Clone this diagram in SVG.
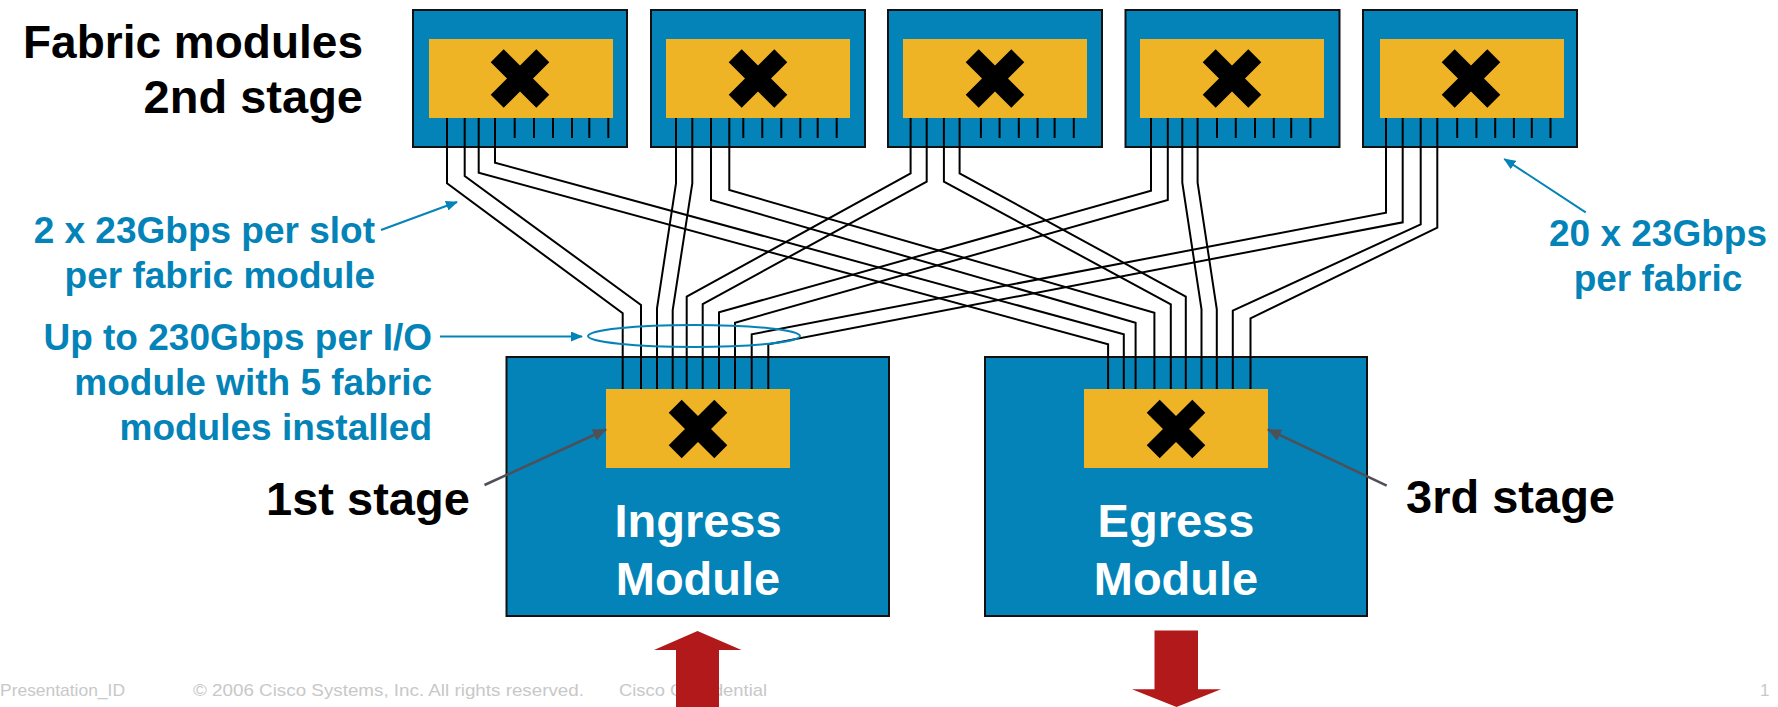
<svg xmlns="http://www.w3.org/2000/svg" width="1778" height="707" viewBox="0 0 1778 707">
<defs>
<style>
.box{fill:#0383B7;stroke:#111;stroke-width:2}
.xbar{fill:#EEB425}
.tick{stroke:#000;stroke-width:2}
.wire{fill:none;stroke:#000;stroke-width:2;stroke-linejoin:miter}
.lbl{font-family:"Liberation Sans",Arial,sans-serif;font-weight:bold}
.blk{font-size:47px;fill:#000}
.blu{font-size:37px;fill:#0383B7}
.wht{font-size:47px;fill:#fff;text-anchor:middle}
.foot{font-family:"Liberation Sans",Arial,sans-serif;font-size:17px;fill:#C8C8C8}
.barrow{stroke:#0383B7;stroke-width:2;fill:none}
.garrow{stroke:#4F4F57;stroke-width:2.5;fill:none}
.red{fill:#B2191B}
</style>
<marker id="mb" viewBox="0 0 12 10" refX="11" refY="5" markerWidth="12" markerHeight="10" markerUnits="userSpaceOnUse" orient="auto"><path d="M0,0 L12,5 L0,10 z" fill="#0383B7"/></marker>
<marker id="mg" viewBox="0 0 14 12" refX="13" refY="6" markerWidth="14" markerHeight="12" markerUnits="userSpaceOnUse" orient="auto"><path d="M0,0 L14,6 L0,12 z" fill="#4F4F57"/></marker>
<path id="X" d="M-29.3,-16.3 L-16.3,-29.3 L0,-13 L16.3,-29.3 L29.3,-16.3 L13,0 L29.3,16.3 L16.3,29.3 L0,13 L-16.3,29.3 L-29.3,16.3 L-13,0 z" fill="#000"/>
</defs>
<rect width="1778" height="707" fill="#fff"/>

<g id="fabric1">
<rect class="box" x="413" y="10" width="214" height="137"/>
<rect class="xbar" x="429" y="39" width="184" height="79"/>
<use href="#X" x="520" y="78.5"/>
<path class="tick" d="M514.7,118V138M534,118V138M553,118V138M572,118V138M589.3,118V138M608.3,118V138"/>
</g>
<g id="fabric2">
<rect class="box" x="651" y="10" width="214" height="137"/>
<rect class="xbar" x="666" y="39" width="184" height="79"/>
<use href="#X" x="758" y="78.5"/>
<path class="tick" d="M743.3,118V138M762.3,118V138M781.3,118V138M800.3,118V138M817.7,118V138M836.7,118V138"/>
</g>
<g id="fabric3">
<rect class="box" x="888" y="10" width="214" height="137"/>
<rect class="xbar" x="903" y="39" width="184" height="79"/>
<use href="#X" x="995" y="78.5"/>
<path class="tick" d="M980.9,118V138M999.6,118V138M1018.8,118V138M1037.6,118V138M1054.6,118V138M1073.8,118V138"/>
</g>
<g id="fabric4">
<rect class="box" x="1125.5" y="10" width="214" height="137"/>
<rect class="xbar" x="1140" y="39" width="184" height="79"/>
<use href="#X" x="1232" y="78.5"/>
<path class="tick" d="M1217,118V138M1235.8,118V138M1255,118V138M1273.8,118V138M1291.2,118V138M1310.4,118V138"/>
</g>
<g id="fabric5">
<rect class="box" x="1363" y="10" width="214" height="137"/>
<rect class="xbar" x="1380" y="39" width="184" height="79"/>
<use href="#X" x="1471" y="78.5"/>
<path class="tick" d="M1457.2,118V138M1476.4,118V138M1495.2,118V138M1513.9,118V138M1531.8,118V138M1550.5,118V138"/>
</g>

<g id="ingress">
<rect class="box" x="506.5" y="357" width="382.5" height="259"/>
<rect class="xbar" x="606" y="389" width="184" height="79"/>
<use href="#X" x="698" y="429"/>
<text class="lbl wht" x="698" y="537">Ingress</text>
<text class="lbl wht" x="698" y="595">Module</text>
</g>
<g id="egress">
<rect class="box" x="985" y="357" width="382" height="259"/>
<rect class="xbar" x="1084" y="389" width="184" height="79"/>
<use href="#X" x="1176" y="429"/>
<text class="lbl wht" x="1176" y="537">Egress</text>
<text class="lbl wht" x="1176" y="595">Module</text>
</g>

<g id="connectors">
<polyline class="wire" points="447,118 447,183.3 622.7,313.3 622.7,389"/>
<polyline class="wire" points="464.7,118 464.7,176 641,305 641,389"/>
<polyline class="wire" points="478.7,118 478.7,172.7 1108.1,344.3 1108.1,389"/>
<polyline class="wire" points="495,118 495,162.7 1123.8,334.3 1123.8,389"/>
<polyline class="wire" points="676,118 676,183.3 657,308.3 657,389"/>
<polyline class="wire" points="692.3,118 692.3,183.3 672.7,310 672.7,389"/>
<polyline class="wire" points="711,118 711,200 1135.6,322.7 1135.6,389"/>
<polyline class="wire" points="729.3,118 729.3,190 1154.4,312.7 1154.4,389"/>
<polyline class="wire" points="910.6,118 910.6,173.3 686.7,296.7 686.7,389"/>
<polyline class="wire" points="926.7,118 926.7,181.7 702.7,304 702.7,389"/>
<polyline class="wire" points="943.9,118 943.9,181.7 1170.8,304.3 1170.8,389"/>
<polyline class="wire" points="959.6,118 959.6,173.3 1185.8,296.7 1185.8,389"/>
<polyline class="wire" points="1151,118 1151,190.7 719,312.3 719,389"/>
<polyline class="wire" points="1167.8,118 1167.8,200 735,322.7 735,389"/>
<polyline class="wire" points="1182.3,118 1182.3,182.7 1201.5,309.3 1201.5,389"/>
<polyline class="wire" points="1197.6,118 1197.6,182.7 1216.8,309.3 1216.8,389"/>
<polyline class="wire" points="1386,118 1386,212.7 751.7,334.3 751.7,389"/>
<polyline class="wire" points="1402.7,118 1402.7,222.3 768.3,344.3 768.3,389"/>
<polyline class="wire" points="1420.7,118 1420.7,224.3 1232.8,310.7 1232.8,389"/>
<polyline class="wire" points="1437.3,118 1437.3,227.7 1250.5,318.3 1250.5,389"/>
<ellipse cx="694" cy="336" rx="106" ry="11" fill="none" stroke="#0383B7" stroke-width="2"/>
<line class="barrow" x1="381" y1="230" x2="457" y2="202" marker-end="url(#mb)"/>
<line class="barrow" x1="440" y1="336.5" x2="582" y2="336.5" marker-end="url(#mb)"/>
<line class="barrow" x1="1585.7" y1="212.3" x2="1504.3" y2="159" marker-end="url(#mb)"/>
<line class="garrow" x1="484.5" y1="485" x2="606" y2="429.5" marker-end="url(#mg)"/>
<line class="garrow" x1="1386.7" y1="485.7" x2="1268" y2="429.5" marker-end="url(#mg)"/>
</g>

<g id="labels">
<text class="lbl blk" x="363" y="58" text-anchor="end" textLength="340" lengthAdjust="spacingAndGlyphs">Fabric modules</text>
<text class="lbl blk" x="363" y="113" text-anchor="end">2nd stage</text>
<text class="lbl blu" x="375" y="243" text-anchor="end">2 x 23Gbps per slot</text>
<text class="lbl blu" x="375" y="288" text-anchor="end">per fabric module</text>
<text class="lbl blu" x="432" y="350" text-anchor="end">Up to 230Gbps per I/O</text>
<text class="lbl blu" x="432" y="395" text-anchor="end">module with 5 fabric</text>
<text class="lbl blu" x="432" y="440" text-anchor="end">modules installed</text>
<text class="lbl blk" x="266" y="515">1st stage</text>
<text class="lbl blk" x="1406" y="512.7">3rd stage</text>
<text class="lbl blu" x="1658" y="246" text-anchor="middle">20 x 23Gbps</text>
<text class="lbl blu" x="1658" y="290.7" text-anchor="middle">per fabric</text>
</g>

<g id="footer">
<text class="foot" x="0" y="696" textLength="125" lengthAdjust="spacingAndGlyphs">Presentation_ID</text>
<text class="foot" x="193" y="696" textLength="391" lengthAdjust="spacingAndGlyphs">© 2006 Cisco Systems, Inc. All rights reserved.</text>
<text class="foot" x="619" y="696" textLength="148" lengthAdjust="spacingAndGlyphs">Cisco Confidential</text>
<text class="foot" x="1760" y="696">1</text>
</g>

<g id="io-arrows">
<polygon class="red" points="697.5,631 741.5,650 719,650 719,707 676,707 676,650 654,650"/>
<polygon class="red" points="1154.5,630.5 1198,630.5 1198,689.3 1221,689.3 1176.5,707 1132,689.3 1154.5,689.3"/>
</g>
</svg>
